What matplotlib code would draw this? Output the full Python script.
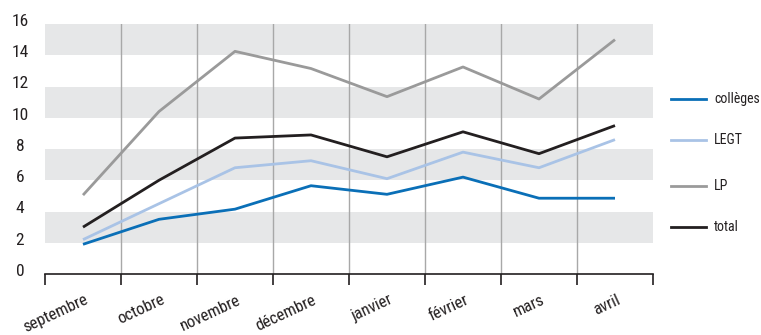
import matplotlib
matplotlib.use("Agg")
import matplotlib.pyplot as plt
from matplotlib import font_manager as fm
import numpy as np

months = ["septembre", "octobre", "novembre", "décembre", "janvier", "février", "mars", "avril"]
colleges = [1.9, 3.5, 4.15, 5.65, 5.1, 6.2, 4.85, 4.85]
legt = [2.2, 4.5, 6.8, 7.25, 6.1, 7.8, 6.8, 8.6]
lp = [5.05, 10.4, 14.25, 13.15, 11.35, 13.25, 11.2, 15.0]
total = [3.0, 6.0, 8.7, 8.9, 7.5, 9.1, 7.7, 9.5]
series_names = ["collèges", "LEGT", "LP", "total"]
yticks = [0, 2, 4, 6, 8, 10, 12, 14, 16]

fl = fm.fontManager.ttflist
names = {f.name for f in fl}
stretch = "normal"
condensed = False
if "Roboto Condensed" in names:
    fam = "Roboto Condensed"; condensed = True
elif any(f.name == "Roboto" and f.stretch in ("condensed", "semi-condensed") for f in fl):
    fam = "Roboto"; stretch = "condensed"; condensed = True
elif "Liberation Sans Narrow" in names:
    fam = "Liberation Sans Narrow"; condensed = True
else:
    fam = "Roboto"
plt.rcParams["font.family"] = [fam, "DejaVu Sans"]
plt.rcParams["font.stretch"] = stretch

colors = ["#0a6fb7", "#a9c3e6", "#9a9a9a", "#231f20"]
fig = plt.figure(figsize=(7.61, 3.35), dpi=100)
ax = fig.add_axes([45/761, 1-274/335, (653-45)/761, 250/335])
ax.set_xlim(0, len(months))
ax.set_ylim(0, 16)

for lo in [2, 6, 10, 14]:
    ax.axhspan(lo, lo+2, color="#e6e7e8", lw=0, zorder=0)
for i in range(1, len(months)):
    ax.axvline(i, color="#a8a8a8", lw=1.0, zorder=1)

x = np.arange(len(months)) + 0.5
for vals, c, n in zip([colleges, legt, lp, total], colors, series_names):
    ax.plot(x, vals, color=c, lw=2.0, solid_capstyle="butt", zorder=3, label=n)

for s in ["top", "right", "left"]:
    ax.spines[s].set_visible(False)
ax.spines["bottom"].set_color("#231f20")
ax.spines["bottom"].set_linewidth(1.2)
ax.set_xticks(range(len(months)+1))
ax.set_xticklabels([])
ax.tick_params(axis="x", length=8, width=1.2, color="#231f20", direction="out")
ax.set_yticks([])

ysize = 12.5 if condensed else 11.5
trans = matplotlib.transforms.blended_transform_factory(fig.transFigure, ax.transData)
for v in yticks:
    ax.text(20/761, v - 0.12, str(v), transform=trans,
            ha="center", va="baseline", fontsize=ysize, color="#231f20")

msize = 12 if condensed else 11
for i, m in enumerate(months):
    ax.text(i + 0.56, -1.6, m, rotation=25, rotation_mode="anchor", ha="right", va="center",
            fontsize=msize, color="#231f20", clip_on=False)

lsize = 10 if condensed else 9
leg_y = [99, 140, 186, 227]
for yy, c, n in zip(leg_y, colors, series_names):
    fy = 1 - yy/335
    fig.add_artist(matplotlib.lines.Line2D([671/761, 706/761], [fy, fy], color=c, lw=2.0,
                                            transform=fig.transFigure))
    fig.text(714/761, fy, n, ha="left", va="center", fontsize=lsize, color="#231f20")

fig.savefig("out.png", dpi=100)
